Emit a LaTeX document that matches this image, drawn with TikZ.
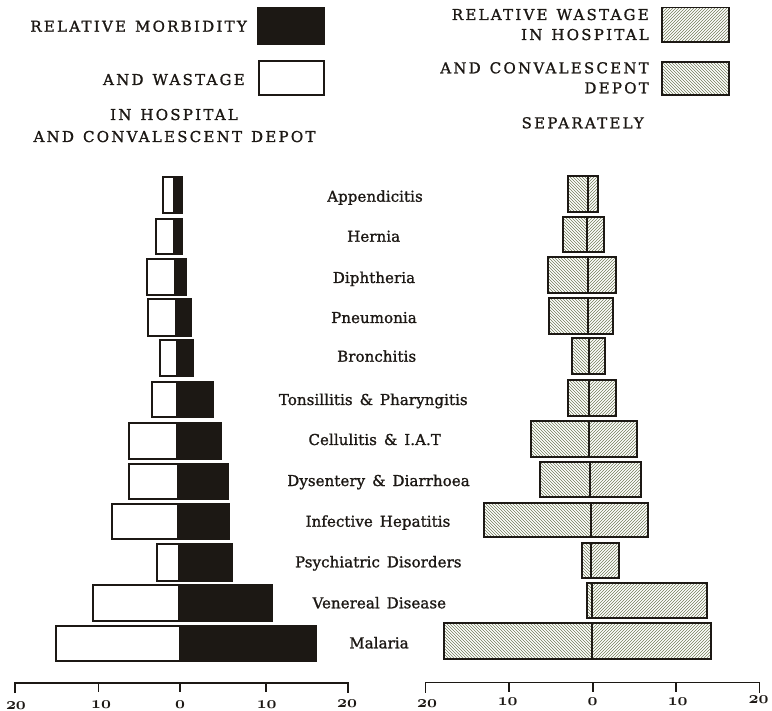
\documentclass[tikz,border=0pt]{standalone}
\usepackage{fontspec}
\usetikzlibrary{patterns}
\definecolor{ink}{RGB}{28,24,20}
\definecolor{hatch}{RGB}{115,125,90}
\newfontfamily\labfam[LetterSpace=0.5,FakeBold=1.2]{DejaVu Serif}
\newfontfamily\legfam[LetterSpace=15,FakeBold=1.2]{DejaVu Serif}
\newcommand\labfont{\labfam\fontsize{15}{18}\selectfont\spaceskip=7pt\relax}
\newcommand\legfont{\legfam\fontsize{15}{18}\selectfont\spaceskip=9pt\relax}
\newcommand\tickfont{\fontencoding{OML}\fontfamily{cmm}\fontseries{b}\fontshape{it}\fontsize{17.28}{20}\selectfont}
\tikzset{
  barline/.style={draw=ink, line width=1.7pt, line join=miter},
  axisline/.style={draw=ink, line width=1.6pt},
  lab/.style={anchor=base, inner sep=0pt, text=ink, font=\labfont},
  leg/.style={anchor=base east, inner sep=0pt, text=ink, font=\legfont},
  legc/.style={anchor=base, inner sep=0pt, text=ink, font=\legfont},
  ticklab/.style={anchor=base, inner sep=0pt, text=ink, font=\tickfont},
}
% left bar: L D R T B
\newcommand\mybarL[5]{%
  \fill[ink] (#2,#4) rectangle (#3,#5);
  \draw[barline] (#1,#4) rectangle (#3,#5);
  \draw[barline] (#2,#4) -- (#2,#5);
}
% right bar: L D R T B
\newcommand\mybarR[5]{%
  \fill[pattern=north west lines, pattern color=hatch] (#1,#4) rectangle (#2,#5);
  \fill[pattern=north east lines, pattern color=hatch] (#2,#4) rectangle (#3,#5);
  \draw[barline] (#1,#4) rectangle (#3,#5);
  \draw[barline] (#2,#4) -- (#2,#5);
}
\begin{document}
\begin{tikzpicture}[x=1pt,y=-1pt]
\useasboundingbox[fill=white] (0,0) rectangle (772,711);

% ---------- legend left ----------
\node[leg] (lg1) at (247,31.7) {RELATIVE MORBIDITY};
\node[leg] (lg2) at (245,85) {AND WASTAGE};
\node[legc] (lg3) at (174,120) {IN HOSPITAL};
\node[legc] (lg4) at (174.5,142) {AND CONVALESCENT DEPOT};
\draw[barline, fill=ink] (258,7.5) rectangle (324,44);
\draw[barline] (259,61) rectangle (324,95);

% ---------- legend right ----------
\node[leg] (rg1) at (649,20) {RELATIVE WASTAGE};
\node[leg] (rg2) at (649,40) {IN HOSPITAL};
\node[leg] (rg3) at (649,73.3) {AND CONVALESCENT};
\node[leg] (rg4) at (649,93.3) {DEPOT};
\node[legc] (rg5) at (582.7,128.3) {SEPARATELY};
\fill[pattern=north east lines, pattern color=hatch] (662,7.5) rectangle (728.7,41.7);
\draw[barline] (662,7.5) rectangle (728.7,41.7);
\fill[pattern=north west lines, pattern color=hatch] (662,61.7) rectangle (728.7,95);
\draw[barline] (662,61.7) rectangle (728.7,95);

% ---------- disease labels ----------
\node[lab] (d1) at (375,201.7) {Appendicitis};
\node[lab] (d2) at (373.7,241.7) {Hernia};
\node[lab] (d3) at (374,283) {Diphtheria};
\node[lab] (d4) at (374,323) {Pneumonia};
\node[lab] (d5) at (376.7,361.7) {Bronchitis};
\node[lab] (d6) at (373.3,405) {Tonsillitis \& Pharyngitis};
\node[lab] (d7) at (374.7,445) {Cellulitis \& I.A.T};
\node[lab] (d8) at (378.5,486) {Dysentery \& Diarrhoea};
\node[lab] (d9) at (378,526.7) {Infective Hepatitis};
\node[lab] (d10) at (378.3,567.3) {Psychiatric Disorders};
\node[lab] (d11) at (379.3,608.3) {Venereal Disease};
\node[lab] (d12) at (379,648.3) {Malaria};

% ---------- left bars ----------
\mybarL{163.3}{174}{181.7}{177.3}{213.3}
\mybarL{155.7}{174}{182.3}{219}{254}
\mybarL{147.3}{175}{185.7}{259.3}{295}
\mybarL{147.7}{176}{190.7}{299.3}{335.7}
\mybarL{160}{176.7}{192.7}{340}{375.7}
\mybarL{152}{176.7}{212.8}{381.7}{417.3}
\mybarL{129}{177.3}{221}{422.7}{459}
\mybarL{129.3}{177.7}{228.3}{464}{499}
\mybarL{111.7}{178.3}{228.7}{504}{539.3}
\mybarL{156.7}{179}{231.7}{544}{580.7}
\mybarL{93.3}{179.3}{271.7}{585}{620.7}
\mybarL{56}{180}{316}{626}{661}

% ---------- right bars ----------
\mybarR{567.7}{587.7}{597.7}{175.7}{212.3}
\mybarR{562.7}{586.7}{604.3}{217.3}{252.3}
\mybarR{548.3}{587.7}{615.7}{257.3}{293.3}
\mybarR{549.3}{588.3}{612.7}{297.7}{334.3}
\mybarR{572.3}{589.3}{605}{338.3}{374.3}
\mybarR{567.7}{589.3}{616}{380}{415.7}
\mybarR{530.7}{589.3}{637.3}{421}{456.7}
\mybarR{540}{590}{640.7}{461.7}{496.7}
\mybarR{484.3}{590.7}{647.7}{502.7}{536.7}
\mybarR{581.7}{591}{619.3}{542.7}{578.3}
\mybarR{587.3}{591.7}{706.7}{582.7}{618.3}
\mybarR{444}{592.3}{711}{622.7}{659.3}

% ---------- axes ----------
\draw[axisline] (15,693) -- (15,682.7) -- (348,682.7) -- (348,693);
\foreach \t in {98.3,180,265.7} \draw[axisline] (\t,682.7) -- (\t,692);
\draw[axisline] (425.3,692.5) -- (425.3,682.3) -- (759.3,682.3) -- (759.3,692.5);
\foreach \t in {508.7,592.7,676} \draw[axisline] (\t,682.3) -- (\t,691.5);

\node[ticklab] (la1) at (16,709) {20};
\node[ticklab] (la2) at (101,708) {10};
\node[ticklab] (la3) at (180,708) {0};
\node[ticklab] (la4) at (266.7,708) {10};
\node[ticklab] (la5) at (347,707) {20};
\node[ticklab] (ra1) at (427,707) {20};
\node[ticklab] (ra2) at (507.7,705) {10};
\node[ticklab] (ra3) at (592.7,705.5) {0};
\node[ticklab] (ra4) at (677.7,705) {10};
\node[ticklab] (ra5) at (758.5,703.5) {20};
\end{tikzpicture}
\end{document}
